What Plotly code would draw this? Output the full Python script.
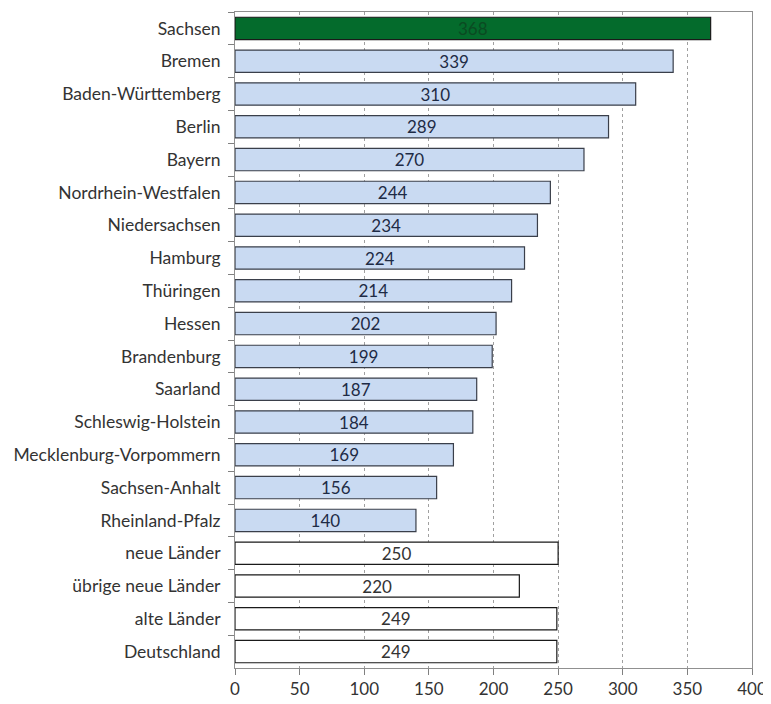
import plotly.graph_objects as go

# ── Data ──────────────────────────────────────────────────────────────────────
laender = ["Sachsen", "Bremen", "Baden-Württemberg", "Berlin", "Bayern",
           "Nordrhein-Westfalen", "Niedersachsen", "Hamburg", "Thüringen",
           "Hessen", "Brandenburg", "Saarland", "Schleswig-Holstein",
           "Mecklenburg-Vorpommern", "Sachsen-Anhalt", "Rheinland-Pfalz",
           "neue Länder", "übrige neue Länder", "alte Länder", "Deutschland"]
werte = [368, 339, 310, 289, 270, 244, 234, 224, 214, 202, 199, 187, 184,
         169, 156, 140, 250, 220, 249, 249]
x_ticks = [0, 50, 100, 150, 200, 250, 300, 350, 400]

# ── Styles ────────────────────────────────────────────────────────────────────
FONT = "Lato, 'Open Sans', sans-serif"
TEXT = "#333333"
GREEN = "#046B2C"
BLUE = "#C9DAF2"

fill, edge, txt = [], [], []
for name in laender:
    if name == "Sachsen":
        fill.append(GREEN); edge.append("#1A1A1A"); txt.append("#0B4A22")
    elif name in ("neue Länder", "übrige neue Länder", "alte Länder", "Deutschland"):
        fill.append("#FFFFFF"); edge.append("#1A1A1A"); txt.append(TEXT)
    else:
        fill.append(BLUE); edge.append("#3A3F4A"); txt.append("#1E2B45")

fig = go.Figure(go.Bar(
    y=laender, x=werte, orientation="h",
    marker=dict(color=fill, line=dict(color=edge, width=1.2)),
    text=[str(v) for v in werte], textposition="inside",
    insidetextanchor="middle", constraintext="none",
    textfont=dict(color=txt, size=17, family=FONT),
    hoverinfo="skip",
))

# page body has an 8px margin, so the figure is shrunk by that much
fig.update_layout(
    width=763, height=696,
    paper_bgcolor="white", plot_bgcolor="white",
    font=dict(family=FONT, color=TEXT, size=16),
    margin=dict(l=227, r=19, t=4, b=36),
    bargap=0.32, showlegend=False,
)
fig.update_xaxes(
    range=[0, 400], tickvals=x_ticks, ticks="outside", ticklen=6,
    tickcolor="#808080", showgrid=True, gridcolor="#A0A0A0", griddash="dot",
    gridwidth=1, showline=True, linecolor="#909090", mirror=True,
    zeroline=False, tickfont=dict(size=17, color=TEXT), automargin=False,
)
fig.update_yaxes(
    autorange="reversed", tickson="boundaries", ticks="outside", ticklen=6,
    tickcolor="#808080", showline=True, linecolor="#909090", mirror=True,
    showgrid=False, tickfont=dict(size=17.5, color=TEXT),
    ticklabelstandoff=10, automargin=False,
)

fig.write_html("out.html")
